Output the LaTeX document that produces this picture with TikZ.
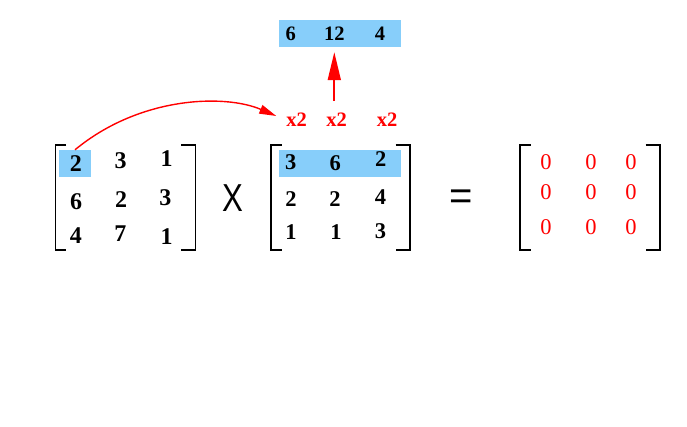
\documentclass[tikz,border=0pt]{standalone}
\usepackage{fontspec}
\setmainfont{Liberation Serif}
\setsansfont{Liberation Sans}
\usetikzlibrary{arrows.meta}
\definecolor{hlblue}{RGB}{135,206,250}
\definecolor{pured}{RGB}{255,0,0}
\tikzset{
  num/.style={inner sep=0pt, font=\bfseries\fontsize{24}{24}\selectfont},
  numm/.style={inner sep=0pt, font=\bfseries\fontsize{22.5}{24}\selectfont},
  numt/.style={inner sep=0pt, font=\bfseries\fontsize{20.5}{24}\selectfont},
  zero/.style={inner sep=0pt, text=pured, font=\fontsize{22.5}{24}\selectfont},
  times/.style={inner sep=0pt, text=pured, font=\bfseries\fontsize{20.5}{24}\selectfont},
  hlbox/.style={fill=hlblue, draw=none},
  bracket/.style={line width=1.3pt, black},
  redarrow/.style={draw=pured, line width=1.4pt},
}
\begin{document}
\begin{tikzpicture}[x=1pt,y=-1pt]
\useasboundingbox (0,0) rectangle (687,426);
% highlight boxes
\node[hlbox, minimum width=122pt, minimum height=27pt, inner sep=0pt] (topbox) at (340,33.5) {};
\node[hlbox, minimum width=32pt, minimum height=27pt, inner sep=0pt] (lbox) at (75,163.5) {};
\node[hlbox, minimum width=122pt, minimum height=27pt, inner sep=0pt] (mbox) at (340,163.5) {};
% brackets
\foreach \l/\r in {55.7/195.7, 271/410, 520/660}{
  \draw[bracket] (\l+10.5,145) -- (\l,145) -- (\l,250) -- (\l+10.5,250);
  \draw[bracket] (\r-14.5,145) -- (\r,145) -- (\r,250) -- (\r-14.5,250);
}
% top row
\node[numt] (t1) at (290.7,33.7) {6};
\node[numt] (t2) at (334.3,33.7) {12};
\node[numt] (t3) at (380,33.7) {4};
% x2 labels
\node[times] (x2a) at (296.7,120) {x2};
\node[times] (x2b) at (336.7,120) {x2};
\node[times] (x2c) at (387,120) {x2};
% left matrix
\node[num] (a11) at (75.8,163.3) {2};
\node[num] (a12) at (120.7,161) {3};
\node[num] (a13) at (166.7,159) {1};
\node[num] (a21) at (76.2,201.7) {6};
\node[num] (a22) at (121,200) {2};
\node[num] (a23) at (165.3,198) {3};
\node[num] (a31) at (75.8,236) {4};
\node[num] (a32) at (120.3,233.7) {7};
\node[num] (a33) at (166.7,237) {1};
% multiply sign
\node[inner sep=0pt, font=\sffamily\fontsize{39}{39}\selectfont] (mul) at (233.3,198) {\scalebox{0.8}[1]{X}};
% middle matrix
\node[numm] (b11) at (290.7,162.3) {3};
\node[numm] (b12) at (335.3,162.7) {6};
\node[numm] (b13) at (380.7,159) {2};
\node[numm] (b21) at (291,199.3) {2};
\node[numm] (b22) at (335,199) {2};
\node[numm] (b23) at (380.5,197.3) {4};
\node[numm] (b31) at (291,232.3) {1};
\node[numm] (b32) at (336,232.3) {1};
\node[numm] (b33) at (380.5,231) {3};
% equals
\node[inner sep=0pt, anchor=base, font=\sffamily\fontsize{40}{40}\selectfont] (eq) at (461,209.6) {=};
% result matrix
\node[zero] (c11) at (546,162) {0};
\node[zero] (c12) at (591,162) {0};
\node[zero] (c13) at (631,162) {0};
\node[zero] (c21) at (546,192) {0};
\node[zero] (c22) at (591,192) {0};
\node[zero] (c23) at (631,192) {0};
\node[zero] (c31) at (546,227) {0};
\node[zero] (c32) at (591,227) {0};
\node[zero] (c33) at (631,227) {0};
% arrows
\coordinate (cend) at ([xshift=-10pt,yshift=4pt]x2a.west);
\draw[redarrow, -{Triangle[length=17pt,width=9pt]}] (lbox.north) .. controls (140,96) and (225,94) .. (cend);
\draw[redarrow, line width=1.8pt, -{Triangle[length=28pt,width=13pt]}, shorten <=12pt, shorten >=5pt] (x2b.north -| t2) -- (topbox.south -| t2);
\end{tikzpicture}
\end{document}
